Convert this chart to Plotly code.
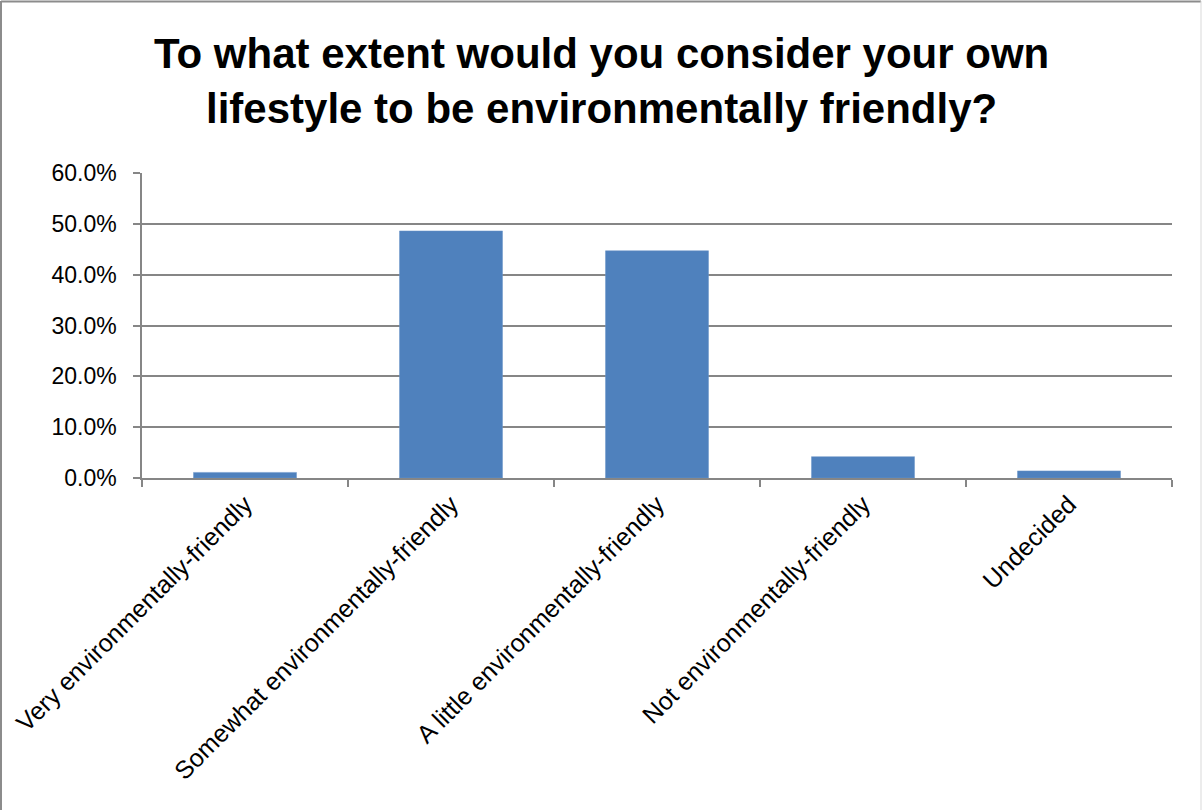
import plotly.graph_objects as go

# Survey responses: share of respondents per answer
categories = [
    "Very environmentally-friendly",
    "Somewhat environmentally-friendly",
    "A little environmentally-friendly",
    "Not environmentally-friendly",
    "Undecided",
]
shares = [0.011, 0.486, 0.447, 0.042, 0.014]

title_lines = [
    "To what extent would you consider your own",
    "lifestyle to be environmentally friendly?",
]

W, H = 1202, 810
L, R, T, B = 142, 30, 173, 332
plot_w = W - L - R
plot_h = H - T - B


def px_x(p):
    return (p - L) / plot_w


def px_y(p):
    return (H - B - p) / plot_h


grid = "#868686"
font_family = "Liberation Sans, Arial, sans-serif"

fig = go.Figure(
    go.Bar(
        x=categories,
        y=shares,
        marker=dict(color="#4F81BD", line=dict(color="#6A95C9", width=0.5)),
        width=0.5,
    )
)

fig.update_layout(
    width=W,
    height=H,
    margin=dict(l=L, r=R, t=T, b=B, pad=0),
    paper_bgcolor="white",
    plot_bgcolor="white",
    showlegend=False,
    font=dict(family=font_family, size=23, color="black"),
)

fig.update_xaxes(
    type="category",
    tickangle=-45,
    tickson="boundaries",
    ticks="outside",
    ticklen=7,
    tickcolor=grid,
    tickwidth=1.5,
    showline=True,
    linecolor=grid,
    linewidth=1.5,
    showgrid=False,
    tickfont=dict(size=25, family=font_family, color="black"),
)

fig.update_yaxes(
    range=[0, 0.6],
    tick0=0,
    dtick=0.1,
    tickformat=".1%",
    ticks="outside",
    ticklen=7,
    tickcolor=grid,
    tickwidth=1.5,
    showline=True,
    linecolor=grid,
    linewidth=1.5,
    showgrid=True,
    gridcolor=grid,
    gridwidth=1.5,
    zeroline=False,
    ticklabelstandoff=12,
    tickfont=dict(size=23, family=font_family, color="black"),
)

# Two-line bold title
title_y = [54, 108]
for text, yc in zip(title_lines, title_y):
    fig.add_annotation(
        text=f"<b>{text}</b>",
        xref="paper",
        yref="paper",
        x=px_x(W / 2),
        y=px_y(yc),
        xanchor="center",
        yanchor="middle",
        showarrow=False,
        font=dict(size=42, family=font_family, color="black"),
    )

# Chart frame
fig.add_shape(
    type="line", xref="paper", yref="paper",
    x0=px_x(1), x1=px_x(1), y0=px_y(1), y1=px_y(H + 5),
    line=dict(color="#8C8C8C", width=2),
)
fig.add_shape(
    type="line", xref="paper", yref="paper",
    x0=px_x(1), x1=px_x(W - 1), y0=px_y(1.5), y1=px_y(1.5),
    line=dict(color="#8C8C8C", width=2),
)
fig.add_shape(
    type="line", xref="paper", yref="paper",
    x0=px_x(W - 1), x1=px_x(W - 1), y0=px_y(1), y1=px_y(H + 5),
    line=dict(color="#D9D9D9", width=1),
)

fig.write_html("out.html")
